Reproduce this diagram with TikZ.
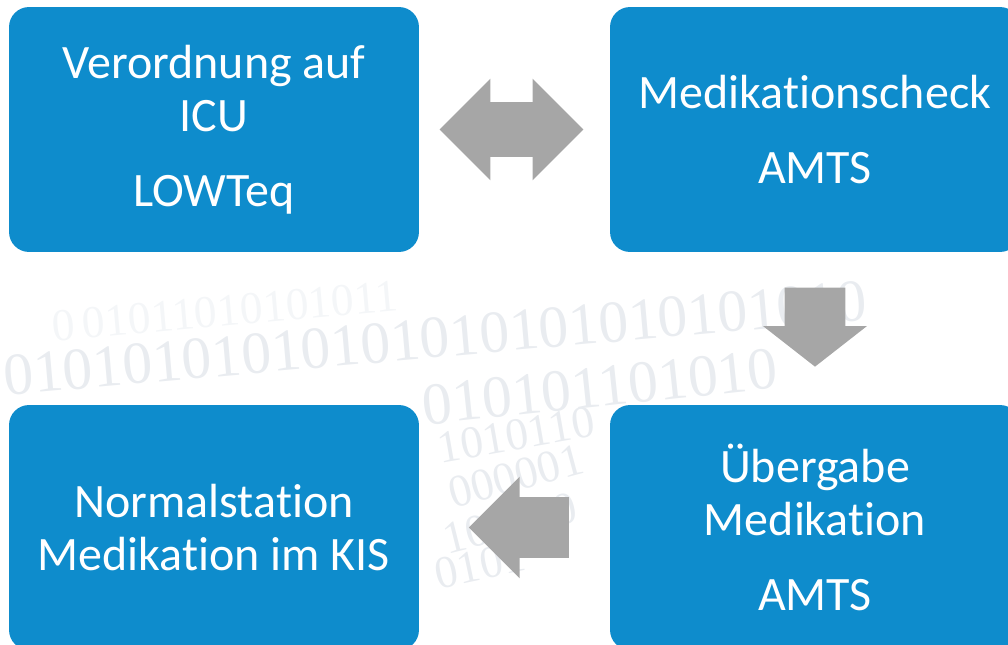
\documentclass[tikz,border=0pt]{standalone}
\usepackage{fontspec}
\setmainfont{Carlito}[Ligatures=NoCommon]
\newfontfamily\bitfont{Liberation Serif}
\usetikzlibrary{shapes.arrows, calc}

\definecolor{boxblue}{RGB}{14,140,204}
\definecolor{arrowgray}{RGB}{166,166,166}
\definecolor{bitgray}{RGB}{233,236,240}

\tikzset{
	stepbox/.style={fill=boxblue, rounded corners=0.4cm, minimum width=8.2cm, minimum height=4.9cm,
		text=white, align=center, font=\fontsize{27.3}{30.1}\selectfont},
	bits/.style={text=bitgray, inner sep=0pt, font=\bitfont\fontsize{26}{26}\selectfont},
	bigbits/.style={bits, font=\bitfont\fontsize{34}{34}\selectfont},
	blockarrow/.style={fill=arrowgray, inner xsep=0pt}
}

\begin{document}
\begin{tikzpicture}[x=0.02cm, y=-0.02cm]
	\useasboundingbox (0,0) rectangle (1008,645);
	% faint binary digits in the background
	\node[bits, text=bitgray!50, rotate=5, name=bits0] at (225,311) {0\,01011010101011};
	\node[bigbits, rotate=5, name=bits1] at (435,338) {01010101010101010101010101010};
	\node[bigbits, rotate=6, name=bits2] at (600,387) {010101101010};
	\node[bits, rotate=10, name=bits3] at (516,435) {1010110};
	\node[bits, rotate=15, name=bits4] at (516,476) {000001};
	\node[bits, rotate=14, name=bits5] at (510,523) {101010};
	\node[bits, rotate=12, name=bits6] at (480,565) {0101};
	% the four steps
	\node[stepbox, name=icu] at (214,129.5) {Verordnung auf\\ICU\\[12.6pt]LOWTeq};
	\node[stepbox, name=check] at (815,129.5) {Medikationscheck\\[12.6pt]AMTS};
	\node[stepbox, name=handover] at (815,527.5) {Übergabe\\Medikation\\[12.6pt]AMTS};
	\node[stepbox, name=ward] at (214,527.5) {Normalstation\\Medikation im KIS};
	% block arrows between the steps
	\node[blockarrow, double arrow, minimum height=2.88cm, minimum width=2.02cm, inner ysep=0.54cm,
		double arrow head extend=0.47cm, double arrow tip angle=90, name=both]
		at ($(icu.east)!0.5!(check.west)+(-3,0)$) {};
	\node[blockarrow, single arrow, rotate=-90, anchor=tail, minimum height=1.58cm, minimum width=2.06cm,
		inner ysep=0.6cm, single arrow head extend=0.43cm, single arrow tip angle=104, name=down]
		at ($(check.south)+(0,35)$) {};
	\node[blockarrow, single arrow, rotate=180, anchor=tip, minimum height=2.0cm, minimum width=2.02cm,
		inner ysep=0.6cm, single arrow head extend=0.41cm, single arrow tip angle=90, name=left]
		at ($(ward.east)+(49,0)$) {};
\end{tikzpicture}
\end{document}
